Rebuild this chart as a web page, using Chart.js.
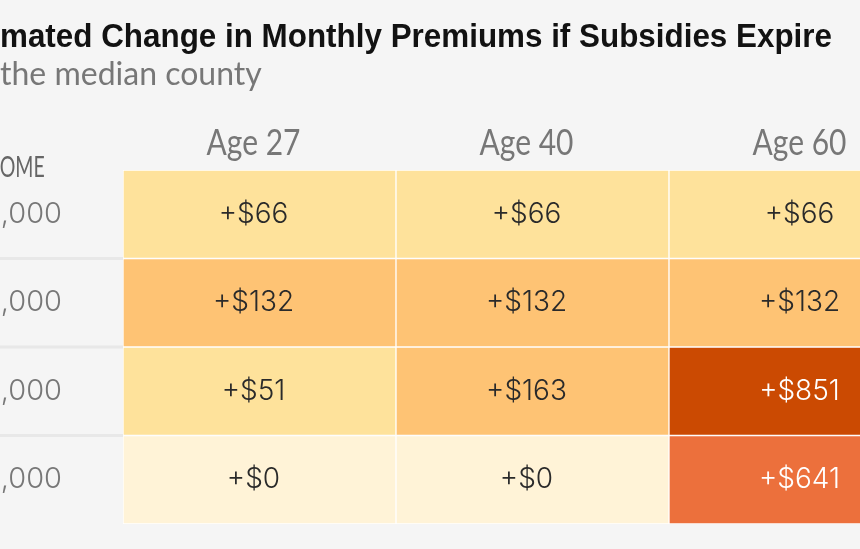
<!DOCTYPE html>
<html>
<head>
<meta charset="utf-8">
<script src="https://cdn.jsdelivr.net/npm/chart.js@4.4.0/dist/chart.umd.min.js"></script>
<style>
  html, body { margin: 0; padding: 0; overflow: hidden; background: #f5f5f5; width: 860px; height: 549px; }
  #heat { position: absolute; left: -100px; top: 0; width: 1050px; height: 549px; }
</style>
</head>
<body>
<canvas id="heat" width="1050" height="549"></canvas>
<script>
// data
const ages = ['Age 27', 'Age 40', 'Age 60'];
const incomes = ['$20,000', '$40,000', '$70,000', '$100,000'];
const row20k = [66, 66, 66];
const row40k = [132, 132, 132];
const row70k = [51, 163, 851];
const row100k = [0, 0, 641];
const rows = [row20k, row40k, row70k, row100k];

const title = 'Estimated Change in Monthly Premiums if Subsidies Expire';
const subtitle = 'In the median county';

// the canvas is shifted left, canvas x = page x + 100
const SHIFT = 100;

function cellColor(v) {
    if (v < 1) return '#fff3d7';
    if (v < 100) return '#fee29b';
    if (v < 300) return '#fec374';
    if (v < 800) return '#ec703c';
    return '#cb4a02';
}

// draw text squeezed horizontally (the original uses a condensed face)
function squeezed(ctx, text, x, y, sx, align) {
    ctx.save();
    ctx.translate(x, y);
    ctx.scale(sx, 1);
    ctx.textAlign = align || 'left';
    ctx.fillText(text, 0, 0);
    ctx.restore();
}

const datasets = rows.map((vals, i) => ({
    label: incomes[i],
    data: vals.map(() => [i - 0.5, i + 0.5]),
    values: vals,
    backgroundColor: vals.map(cellColor),
    borderColor: '#ffffff',
    borderWidth: 1,
    borderSkipped: false,
    grouped: false,
    barPercentage: 1,
    categoryPercentage: 1
}));

const textPlugin = {
    id: 'texts',
    beforeDraw(chart) {
        const ctx = chart.ctx;
        ctx.save();
        ctx.fillStyle = '#f5f5f5';
        ctx.fillRect(0, 0, chart.width, chart.height);
        ctx.textBaseline = 'alphabetic';

        // title
        ctx.font = 'bold 33px "Liberation Sans"';
        ctx.fillStyle = '#121212';
        let sx = 832 / ctx.measureText(title.slice(4)).width;
        squeezed(ctx, title, SHIFT - sx * ctx.measureText('Esti').width, 47, sx);

        ctx.font = '32px Lato';
        ctx.fillStyle = '#777777';
        ctx.fillText(subtitle, SHIFT - ctx.measureText('In ').width, 85);

        ctx.font = '28px Lato';
        ctx.fillStyle = '#666666';
        sx = 45 / ctx.measureText('OME').width;
        squeezed(ctx, 'INCOME', SHIFT - sx * ctx.measureText('INC').width, 177, sx);

        // column headers on the x scale
        const x = chart.scales.x;
        ctx.font = '37px Lato';
        ctx.fillStyle = '#777777';
        sx = 94 / ctx.measureText(ages[0]).width;
        ages.forEach((a, i) => squeezed(ctx, a, x.getPixelForValue(i) - 6, 155, sx, 'center'));

        // row separators in the label column
        const y = chart.scales.y;
        ctx.fillStyle = '#e8e8e8';
        for (let i = 0; i < incomes.length - 1; i++) {
            const py = y.getPixelForValue(i + 0.5);
            ctx.fillRect(0, py - 1.5, chart.chartArea.left, 3);
        }
        ctx.restore();
    },
    afterDatasetsDraw(chart) {
        const ctx = chart.ctx;
        ctx.save();
        ctx.font = '300 28px Inter';
        ctx.textAlign = 'center';
        ctx.textBaseline = 'middle';
        chart.data.datasets.forEach((ds, i) => {
            chart.getDatasetMeta(i).data.forEach((bar, j) => {
                const v = ds.values[j];
                ctx.fillStyle = v > 500 ? '#ffffff' : '#2a2a2a';
                ctx.fillText('+$' + v, bar.x - 6, (bar.y + bar.base) / 2);
            });
        });
        ctx.restore();
    }
};

new Chart(document.getElementById('heat').getContext('2d'), {
    type: 'bar',
    data: { labels: ages, datasets },
    options: {
        responsive: false,
        animation: false,
        layout: { padding: { left: 0, right: 8, top: 100, bottom: 25 } },
        plugins: { legend: { display: false }, tooltip: { enabled: false } },
        scales: {
            x: {
                position: 'top',
                grid: { display: false, drawTicks: false },
                border: { display: false },
                ticks: { display: false },
                afterFit(scale) { scale.height = 70; }
            },
            y: {
                min: -0.5,
                max: 3.5,
                reverse: true,
                grid: { display: false, drawTicks: false },
                border: { display: false },
                afterBuildTicks(scale) { scale.ticks = incomes.map((_, i) => ({ value: i })); },
                ticks: {
                    color: '#777777',
                    font: { family: 'Inter', size: 29, weight: 300 },
                    padding: 61,
                    callback: (v) => incomes[v]
                },
                afterFit(scale) {
                    scale.width = 223;
                    scale.paddingTop = 0;
                    scale.paddingBottom = 0;
                }
            }
        }
    },
    plugins: [textPlugin]
});
</script>
</body>
</html>
